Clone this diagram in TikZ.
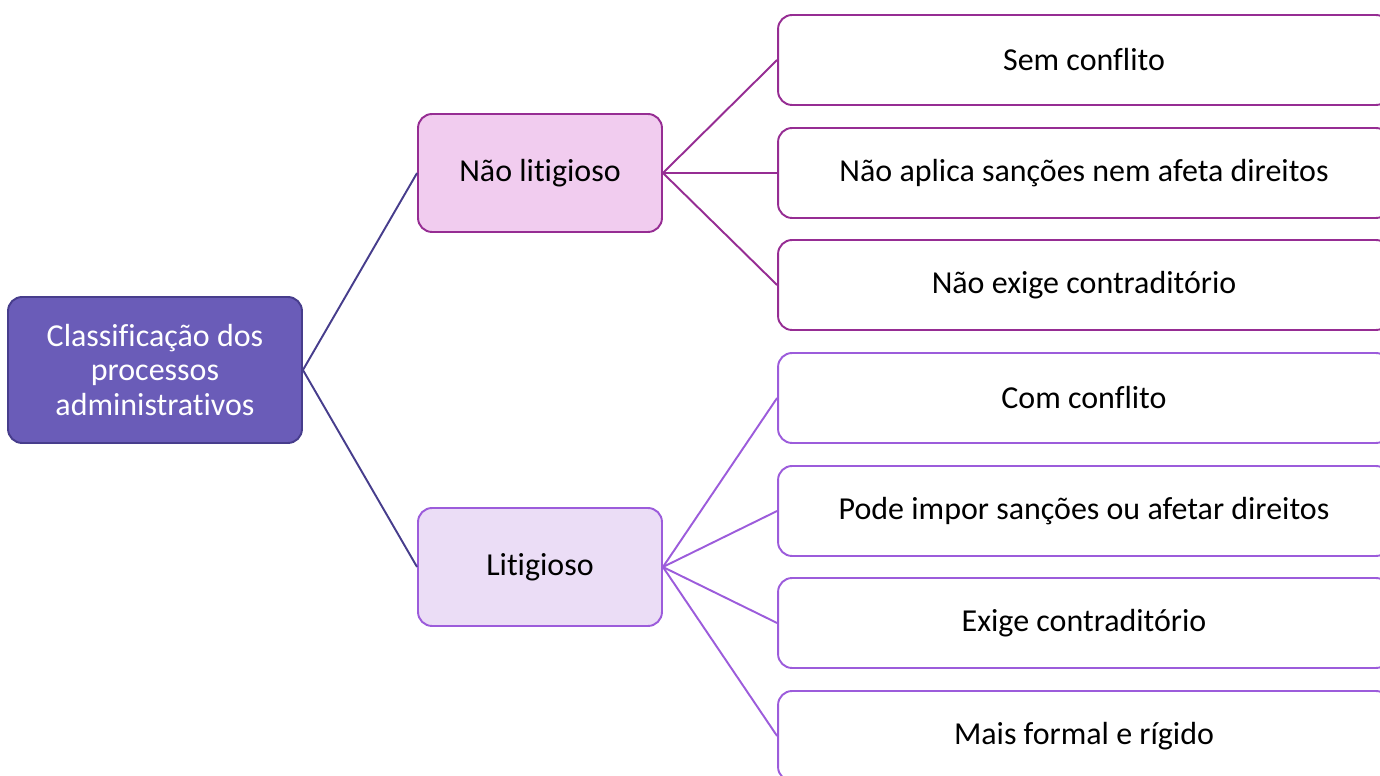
\documentclass[tikz,border=0pt]{standalone}
\usepackage{fontspec}
\setmainfont[Ligatures={NoCommon}]{Carlito}
\usetikzlibrary{positioning}
\definecolor{rootfill}{HTML}{6A5CB8}
\definecolor{rootline}{HTML}{473D8C}
\definecolor{nlfill}{HTML}{F1CCEF}
\definecolor{nlline}{HTML}{962D93}
\definecolor{litfill}{HTML}{EBDDF6}
\definecolor{litline}{HTML}{9C5CDB}

\begin{document}
\begin{tikzpicture}[x=0.02cm, y=-0.02cm,
  box/.style={draw, rounded corners=8pt, line width=1.1pt, align=center, font=\fontsize{18.2}{19.8}\selectfont},
  rootbox/.style={box, fill=rootfill, draw=rootline, text=white, minimum width=5.88cm, minimum height=2.92cm},
  midbox/.style={box, minimum width=4.88cm, minimum height=2.36cm},
  leaf/.style={box, fill=white, minimum width=12.24cm, minimum height=1.8cm}]
  \useasboundingbox (0,0) rectangle (1380,776);
  \clip (0,0) rectangle (1380,776);

  \node[rootbox] (root) at (155,370) {Classificação dos\\processos\\administrativos};

  \node[midbox, fill=nlfill, draw=nlline] (nl) at (540,173) {Não litigioso};
  \node[midbox, fill=litfill, draw=litline] (lit) at (540,567) {Litigioso};

  \node[leaf, draw=nlline] (nl1) at (1084,60) {Sem conflito};
  \node[leaf, draw=nlline] (nl2) at (1084,173) {Não aplica sanções nem afeta direitos};
  \node[leaf, draw=nlline] (nl3) at (1084,285) {Não exige contraditório};

  \node[leaf, draw=litline] (lit1) at (1084,398) {Com conflito};
  \node[leaf, draw=litline] (lit2) at (1084,511) {Pode impor sanções ou afetar direitos};
  \node[leaf, draw=litline] (lit3) at (1084,623) {Exige contraditório};
  \node[leaf, draw=litline] (lit4) at (1084,736) {Mais formal e rígido};

  \draw[rootline, line width=1.1pt] (root.east) -- (nl.west);
  \draw[rootline, line width=1.1pt] (root.east) -- (lit.west);

  \draw[nlline, line width=1.1pt] (nl.east) -- (nl1.west);
  \draw[nlline, line width=1.1pt] (nl.east) -- (nl2.west);
  \draw[nlline, line width=1.1pt] (nl.east) -- (nl3.west);

  \draw[litline, line width=1.1pt] (lit.east) -- (lit1.west);
  \draw[litline, line width=1.1pt] (lit.east) -- (lit2.west);
  \draw[litline, line width=1.1pt] (lit.east) -- (lit3.west);
  \draw[litline, line width=1.1pt] (lit.east) -- (lit4.west);
\end{tikzpicture}
\end{document}
